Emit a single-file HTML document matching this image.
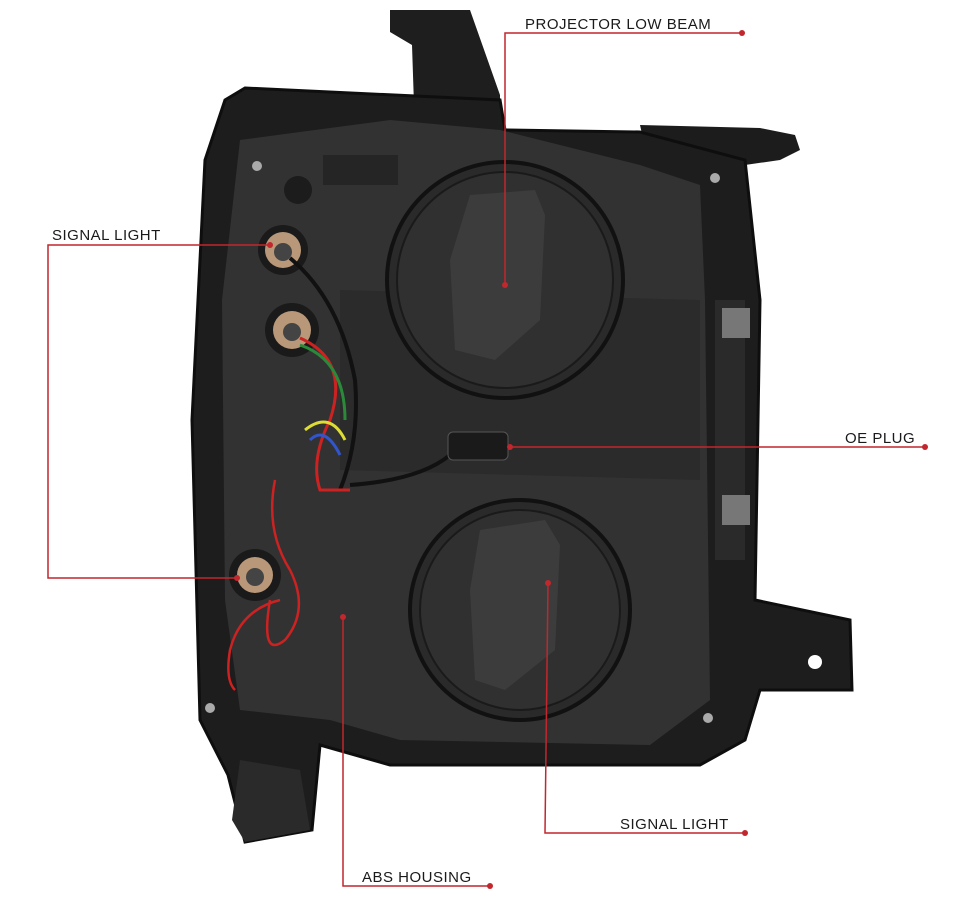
<!DOCTYPE html>
<html><head><meta charset="utf-8"><style>
html,body{margin:0;padding:0;background:#fff;}
svg{display:block}
text{font-family:"Liberation Sans",sans-serif;font-size:15px;fill:#1a1a1a;letter-spacing:0.5px}
</style></head><body>
<svg width="962" height="908" viewBox="0 0 962 908" xmlns="http://www.w3.org/2000/svg">
<rect width="962" height="908" fill="#fff"/>
<!-- top bracket -->
<path d="M390,10 L470,10 L500,95 L500,135 L415,135 L412,45 L390,32 Z" fill="#1e1e1e"/>
<!-- right top ear -->
<path d="M640,125 L760,128 L795,135 L800,150 L780,160 L745,165 L650,170 Z" fill="#1c1c1c"/>
<!-- main body -->
<path d="M245,88 L500,100 L505,130 L640,132 L745,160 L760,300 L755,600 L850,620 L852,690 L760,690 L745,740 L700,765 L390,765 L320,745 L312,830 L245,842 L228,775 L200,720 L192,420 L205,160 L225,100 Z" fill="#1d1d1d" stroke="#0e0e0e" stroke-width="3"/>
<!-- inner body -->
<path d="M240,140 L390,120 L500,130 L640,165 L700,185 L705,300 L710,700 L650,745 L400,740 L330,720 L240,710 L225,600 L222,300 Z" fill="#323232"/>
<path d="M340,290 L700,300 L700,480 L340,470 Z" fill="#2b2b2b"/>
<!-- bottom tab -->
<path d="M240,760 L300,770 L310,830 L245,842 L232,820 Z" fill="#2a2a2a"/>
<!-- right lamp sections -->
<rect x="715" y="300" width="30" height="260" fill="#2a2a2a"/>
<rect x="722" y="308" width="28" height="30" fill="#777"/>
<rect x="722" y="495" width="28" height="30" fill="#777"/>
<circle cx="815" cy="662" r="7" fill="#fff"/>
<!-- upper lens -->
<circle cx="505" cy="280" r="118" fill="#2a2a2a" stroke="#111" stroke-width="4"/>
<circle cx="505" cy="280" r="108" fill="#303030" stroke="#1a1a1a" stroke-width="2"/>
<path d="M470,195 L535,190 L545,215 L540,320 L495,360 L455,350 L450,260 Z" fill="#3c3c3c"/>
<!-- lower lens -->
<circle cx="520" cy="610" r="110" fill="#2a2a2a" stroke="#111" stroke-width="4"/>
<circle cx="520" cy="610" r="100" fill="#303030" stroke="#1a1a1a" stroke-width="2"/>
<path d="M480,530 L545,520 L560,545 L555,650 L505,690 L475,680 L470,590 Z" fill="#3c3c3c"/>
<!-- sockets -->
<circle cx="283" cy="250" r="25" fill="#1a1a1a"/><circle cx="283" cy="250" r="18" fill="#b9987a"/><circle cx="283" cy="252" r="9" fill="#444"/>
<circle cx="292" cy="330" r="27" fill="#1a1a1a"/><circle cx="292" cy="330" r="19" fill="#b9987a"/><circle cx="292" cy="332" r="9" fill="#444"/>
<circle cx="255" cy="575" r="26" fill="#1a1a1a"/><circle cx="255" cy="575" r="18" fill="#b9987a"/><circle cx="255" cy="577" r="9" fill="#444"/>
<circle cx="298" cy="190" r="14" fill="#1c1c1c"/>
<rect x="323" y="155" width="75" height="30" fill="#252525"/>
<!-- wires -->
<path d="M290,258 Q340,300 355,380 Q360,440 340,490" stroke="#111" stroke-width="4" fill="none"/>
<path d="M300,338 Q350,360 330,420 Q310,460 320,490 L350,490" stroke="#c22" stroke-width="3" fill="none"/>
<path d="M300,345 Q345,360 345,420" stroke="#2a8a3a" stroke-width="3" fill="none"/>
<path d="M305,430 Q330,410 345,440" stroke="#dd3" stroke-width="3" fill="none"/>
<path d="M310,440 Q325,425 340,455" stroke="#35c" stroke-width="3" fill="none"/>
<path d="M350,485 Q420,480 450,455" stroke="#111" stroke-width="4" fill="none"/>
<path d="M275,480 Q265,530 290,570 Q310,610 285,640 Q260,660 270,600 M280,600 Q240,610 230,650 Q225,680 235,690" stroke="#c22" stroke-width="2.5" fill="none"/>
<!-- plug -->
<rect x="448" y="432" width="60" height="28" rx="5" fill="#1a1a1a" stroke="#555" stroke-width="1"/>
<!-- screws -->
<circle cx="257" cy="166" r="5" fill="#aaa"/><circle cx="715" cy="178" r="5" fill="#aaa"/>
<circle cx="210" cy="708" r="5" fill="#aaa"/><circle cx="708" cy="718" r="5" fill="#aaa"/>
<!-- callout lines -->
<g stroke="#c1272d" stroke-width="1.5" fill="none">
<path d="M505,285 L505,33 L742,33"/>
<path d="M270,245 L48,245 L48,578 L237,578"/>
<path d="M510,447 L925,447"/>
<path d="M548,583 L545,833 L745,833"/>
<path d="M343,617 L343,886 L490,886"/>
</g>
<g fill="#c1272d">
<circle cx="742" cy="33" r="3"/><circle cx="505" cy="285" r="3"/>
<circle cx="270" cy="245" r="3"/><circle cx="237" cy="578" r="3"/>
<circle cx="510" cy="447" r="3"/><circle cx="925" cy="447" r="3"/>
<circle cx="548" cy="583" r="3"/><circle cx="745" cy="833" r="3"/>
<circle cx="343" cy="617" r="3"/><circle cx="490" cy="886" r="3"/>
</g>
<text x="525" y="29">PROJECTOR LOW BEAM</text>
<text x="52" y="240">SIGNAL LIGHT</text>
<text x="845" y="443">OE PLUG</text>
<text x="620" y="829">SIGNAL LIGHT</text>
<text x="362" y="882">ABS HOUSING</text>
</svg>
</body></html>
